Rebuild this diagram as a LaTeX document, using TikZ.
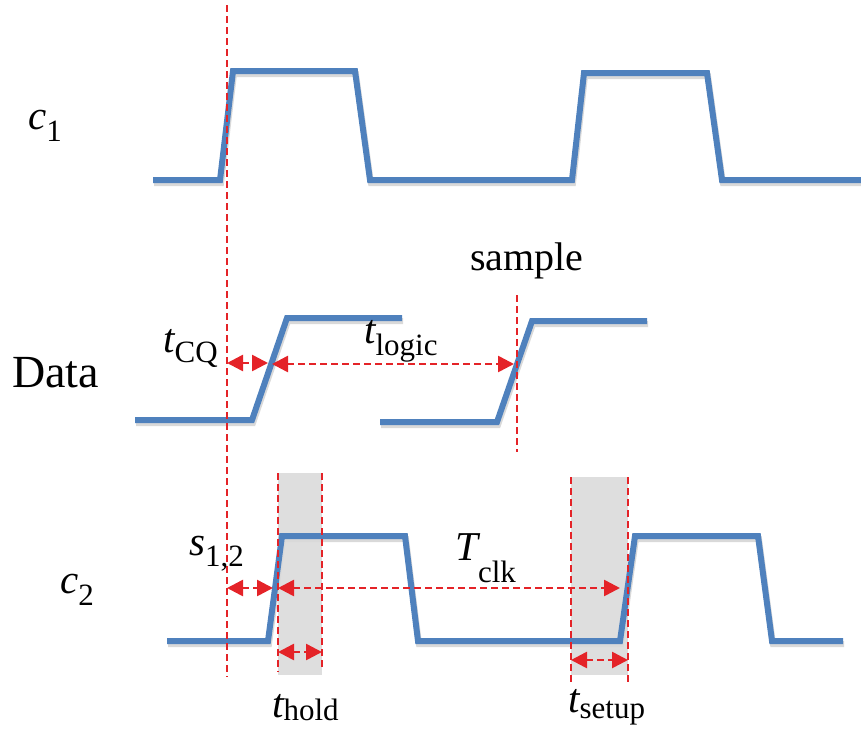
\documentclass[tikz,border=0pt]{standalone}
\usepackage{fontspec}
\setmainfont{Liberation Serif}
\usetikzlibrary{arrows.meta}
\definecolor{wblue}{RGB}{79,129,189}
\definecolor{mred}{RGB}{228,35,40}
\definecolor{shadebox}{RGB}{222,222,222}
\newcommand\symlbl[3]{{\fontsize{41}{41}\selectfont\itshape #1}\raisebox{-#3pt}{\fontsize{31}{31}\selectfont #2}}
\begin{document}
\begin{tikzpicture}[x=1pt,y=-1pt,
  wave/.style={line width=6pt,wblue,line join=miter},
  wshadow/.style={line width=6pt,black!15,line join=miter},
  guide/.style={mred,line width=2.6pt,dash pattern=on 7pt off 4pt},
  dimboth/.style={guide,{Triangle[length=16pt,width=16pt]}-{Triangle[length=16pt,width=16pt]}},
  lbl/.style={inner sep=0pt,anchor=base west}]
\useasboundingbox (0,0) rectangle (861,731);
% shaded windows
\fill[shadebox] (278,473) rectangle (322,675);
\fill[shadebox] (571,477) rectangle (628,675);
% waveform shadows
\begin{scope}[shift={(1,3)}]
\draw[wshadow] (153,180) -- (220,180) -- (233,71) -- (355,71) -- (370,180) -- (572,180) -- (584,73) -- (707,73) -- (722,180) -- (861,180);
\draw[wshadow] (135,420) -- (252,420) -- (287,318) -- (402,318);
\draw[wshadow] (380,422) -- (497,422) -- (532,321) -- (647,321);
\draw[wshadow] (167,641) -- (268,641) -- (282,536) -- (405,536) -- (418,641) -- (620,641) -- (635,536) -- (758,536) -- (772,641) -- (843,641);
\end{scope}
% waveforms
\draw[wave] (153,180) -- (220,180) -- (233,71) -- (355,71) -- (370,180) -- (572,180) -- (584,73) -- (707,73) -- (722,180) -- (861,180);
\draw[wave] (135,420) -- (252,420) -- (287,318) -- (402,318);
\draw[wave] (380,422) -- (497,422) -- (532,321) -- (647,321);
\draw[wave] (167,641) -- (268,641) -- (282,536) -- (405,536) -- (418,641) -- (620,641) -- (635,536) -- (758,536) -- (772,641) -- (843,641);
% guide coordinates
\coordinate (refT) at (227,5);
\coordinate (refB) at (227,677);
\coordinate (smpT) at (517,295);
\coordinate (smpB) at (517,452);
\coordinate (h1T) at (278,473);
\coordinate (h1B) at (278,672);
\coordinate (h2T) at (322,473);
\coordinate (h2B) at (322,668);
\coordinate (s1T) at (571,477);
\coordinate (s1B) at (571,682);
\coordinate (s2T) at (628,477);
\coordinate (s2B) at (628,682);
\draw[guide] (refT) -- (refB);
\draw[guide] (smpT) -- (smpB);
\draw[guide] (h1T) -- (h1B);
\draw[guide] (h2T) -- (h2B);
\draw[guide] (s1T) -- (s1B);
\draw[guide] (s2T) -- (s2B);
% dimension arrows
\coordinate (cqA) at (227,363);
\coordinate (cqB) at (268,363);
\coordinate (lgA) at (272,364);
\coordinate (lgB) at (514,364);
\coordinate (skA) at (227,588);
\coordinate (skB) at (273,588);
\coordinate (tcA) at (278,588);
\coordinate (tcB) at (620,588);
\coordinate (hdA) at (278,652);
\coordinate (hdB) at (322,652);
\coordinate (suA) at (571,660);
\coordinate (suB) at (628,660);
\draw[dimboth] (cqA) -- (cqB);
\draw[dimboth] (lgA) -- (lgB);
\draw[dimboth] (skA) -- (skB);
\draw[dimboth] (tcA) -- (tcB);
\draw[dimboth] (hdA) -- (hdB);
\draw[dimboth] (suA) -- (suB);
% labels
\node[lbl] (c1) at (28,129) {\symlbl{c}{1}{12}};
\node[lbl] (data) at (12,387) {\fontsize{46}{46}\selectfont Data};
\node[lbl] (tcq) at (163,352) {\symlbl{t}{CQ}{10}};
\node[lbl] (tlogic) at (364,343) {\symlbl{t}{logic}{12}};
\node[lbl] (sample) at (470,270) {\fontsize{40}{40}\selectfont sample};
\node[lbl] (s12) at (189,555) {\symlbl{s}{1,2}{11}};
\node[lbl] (c2) at (60,593) {\symlbl{c}{2}{12}};
\node[lbl] (tclk) at (455,560) {\symlbl{T}{clk}{22}};
\node[lbl] (thold) at (272,717) {\symlbl{t}{hold}{3}};
\node[lbl] (tsetup) at (568,712) {\symlbl{t}{setup}{6}};
\end{tikzpicture}
\end{document}
